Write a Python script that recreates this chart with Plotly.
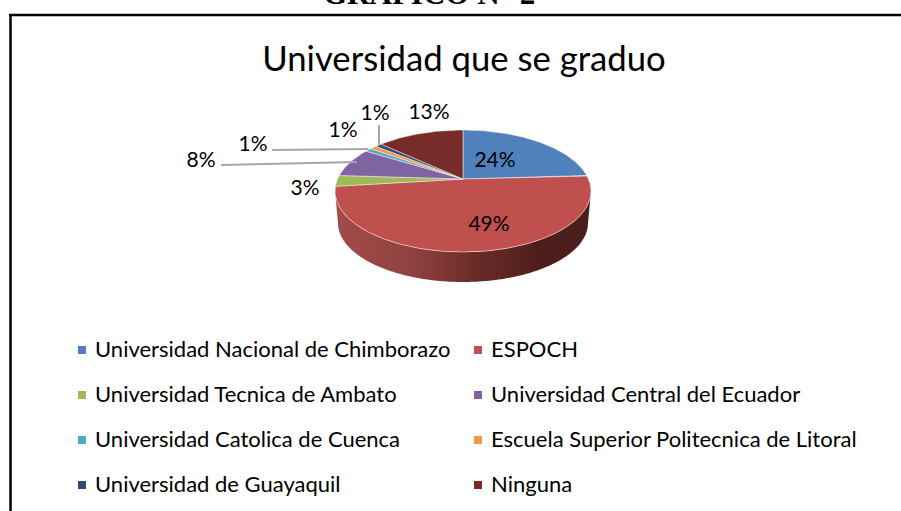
import numpy as np
import plotly.graph_objects as go

# ---- data ----
categories = ["Universidad Nacional de Chimborazo", "ESPOCH",
              "Universidad Tecnica de Ambato", "Universidad Central del Ecuador",
              "Universidad Catolica de Cuenca", "Escuela Superior Politecnica de Litoral",
              "Universidad de Guayaquil", "Ninguna"]
percent = [24, 49, 3, 8, 1, 1, 1, 13]
colors = ["#4F81BD", "#C0504D", "#9BBB59", "#8064A2", "#4BACC6", "#F79646", "#2C4D75", "#772C2A"]
title_text = "Universidad que se graduo"
page_heading = "GRAFICO N° 2"

# ---- layout constants (axes are in page pixels) ----
W, H = 901, 511
APEX = (463.0, 179.0)
CX, CY, RX, RY = 463.0, 191.0, 128.0, 61.0
KY = 58.0
LOW_CY, LOW_RX, LOW_RY = 223.0, 125.0, 59.0
FONT = "Lato"
label_pos = [(495, 162), (489, 226), (305, 190), (201, 162), (253, 146), (343, 132), (375, 115), (429, 114)]
leader_start = {3: (221, 165), 4: (272, 150), 6: (379, 125)}
legend_x = [(82, 95), (478, 491)]
legend_y = [351, 396, 441, 486]


def rim_point(phi):
    """Where the ray from the apex at pie angle phi meets the tilted rim."""
    dx, dy = RX * np.sin(phi), -KY * np.cos(phi)
    ax, ay = (APEX[0] - CX) / RX, (APEX[1] - CY) / RY
    a = (dx / RX) ** 2 + (dy / RY) ** 2
    b = 2 * (ax * dx / RX + ay * dy / RY)
    c = ax ** 2 + ay ** 2 - 1
    t = (-b + np.sqrt(b * b - 4 * a * c)) / (2 * a)
    return APEX[0] + t * dx, APEX[1] + t * dy


fig = go.Figure()

# side wall of the pie
t = np.linspace(0, np.pi, 160)
wall_x = np.r_[CX + RX * np.cos(t), CX + LOW_RX * np.cos(t[::-1])]
wall_y = np.r_[CY + RY * np.sin(t), LOW_CY + LOW_RY * np.sin(t[::-1])]
fig.add_trace(go.Scatter(
    x=wall_x, y=wall_y, mode="none", fill="toself", hoverinfo="skip",
    fillgradient=dict(type="horizontal", colorscale=[
        [0, "#A34C49"], [0.3, "#8F4240"], [0.55, "#6A2B29"], [0.8, "#4E1E1C"], [1, "#4A1F1C"]]),
))

# top face slices
fracs = np.cumsum([0] + percent) / sum(percent)
mids = []
for i, name in enumerate(categories):
    a0, a1 = 2 * np.pi * fracs[i], 2 * np.pi * fracs[i + 1]
    mids.append((a0 + a1) / 2)
    phis = np.linspace(a0, a1, max(4, int(percent[i] * 6)))
    pts = [rim_point(p) for p in phis]
    xs = [APEX[0]] + [p[0] for p in pts] + [APEX[0]]
    ys = [APEX[1]] + [p[1] for p in pts] + [APEX[1]]
    fig.add_trace(go.Scatter(
        x=xs, y=ys, mode="lines", fill="toself", fillcolor=colors[i], name=name,
        line=dict(color="rgba(255,235,235,0.65)", width=0.8), hoverinfo="name",
    ))

# leader lines
for i, (sx, sy) in leader_start.items():
    ex, ey = rim_point(mids[i])
    if i == 3:
        ex, ey = APEX[0] + (ex - APEX[0]) * 0.94, sy - 3
    elif i == 4:
        ey = sy - 1
    elif i == 6:
        ex = sx
    fig.add_trace(go.Scatter(x=[sx, ex], y=[sy, ey], mode="lines",
                             line=dict(color="#A6A6A6", width=2), hoverinfo="skip"))

# data labels
for (x, y), p in zip(label_pos, percent):
    fig.add_trace(go.Scatter(x=[x], y=[y], mode="text", text=[f"{p}%"], textposition="middle center",
                             textfont=dict(family=FONT, size=21, color="#000000"), hoverinfo="skip"))

# legend, two columns
for i, name in enumerate(categories):
    mx, tx = legend_x[i % 2]
    ly = legend_y[i // 2]
    fig.add_trace(go.Scatter(x=[mx], y=[ly - 1], mode="markers",
                             marker=dict(symbol="square", size=8, color=colors[i]), hoverinfo="skip"))
    fig.add_trace(go.Scatter(x=[tx], y=[ly], mode="text", text=[name], textposition="middle right",
                             textfont=dict(family=FONT, size=22, color="#000000"), hoverinfo="skip"))

# chart title and frame
fig.add_trace(go.Scatter(x=[464], y=[62], mode="text", text=[title_text], textposition="middle center",
                         textfont=dict(family=FONT, size=34.7, color="#000000"), hoverinfo="skip"))
fig.add_annotation(x=429, y=13, xref="x", yref="y", text=f"<b>{page_heading}</b>", showarrow=False,
                   yanchor="bottom", font=dict(family="Liberation Serif", size=31, color="#000000"))
fig.add_shape(type="line", x0=10.5, x1=10.5, y0=15, y1=H, xref="x", yref="y", line=dict(color="#000000", width=2.5))
fig.add_shape(type="line", x0=9, x1=W, y0=15, y1=15, xref="x", yref="y", line=dict(color="#000000", width=2.5))

fig.update_layout(
    width=W, height=H, margin=dict(l=0, r=0, t=0, b=0), showlegend=False,
    paper_bgcolor="white", plot_bgcolor="white",
    xaxis=dict(range=[0, W], visible=False, fixedrange=True),
    yaxis=dict(range=[H, 0], visible=False, fixedrange=True),
)
fig.write_html("out.html", config=dict(displayModeBar=False),
               post_script="document.body.style.margin='0';document.body.style.overflow='hidden';")
